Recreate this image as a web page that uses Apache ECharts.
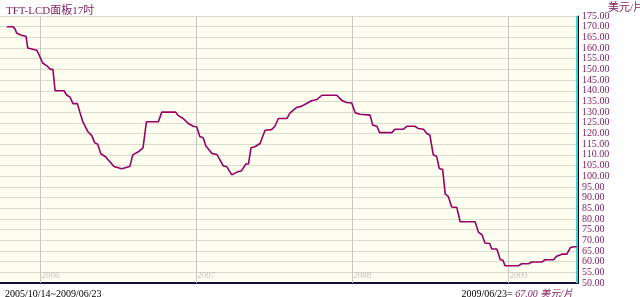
<!DOCTYPE html>
<html><head><meta charset="utf-8">
<script src="https://cdn.jsdelivr.net/npm/echarts@6/dist/echarts.min.js"></script>
<style>html,body{margin:0;padding:0;background:#fff}#c{width:640px;height:297px}</style>
</head><body><div id="c"></div>
<script>
const chartTitle = 'TFT-LCD面板17吋';
const unitLabel = '美元/片';
const rangeLabel = '2005/10/14~2009/06/23';
const lastDateLabel = '2009/06/23=';
const lastValueLabel = '67.00 美元/片';
const dates = ['2005-10-14','2005-10-28','2005-11-02','2005-11-06','2005-11-17','2005-11-28','2005-12-02','2005-12-23','2005-12-28',
'2006-01-06','2006-01-15','2006-01-24','2006-01-30','2006-02-04','2006-02-25','2006-03-03','2006-03-11','2006-03-18','2006-03-28',
'2006-04-03','2006-04-10','2006-04-22','2006-05-01','2006-05-08','2006-05-15','2006-05-22','2006-06-03','2006-06-08','2006-06-16',
'2006-06-22','2006-07-10','2006-07-29','2006-08-05','2006-08-17','2006-08-29','2006-09-06','2006-10-04','2006-10-12','2006-11-13',
'2006-11-19','2006-12-01','2006-12-13','2006-12-25','2007-01-02','2007-01-09','2007-01-17','2007-01-23','2007-02-06','2007-02-18',
'2007-03-05','2007-03-13','2007-03-25','2007-04-05','2007-04-17','2007-04-27','2007-05-03','2007-05-09','2007-05-18','2007-05-30',
'2007-06-11','2007-06-26','2007-07-04','2007-07-12','2007-08-01','2007-08-08','2007-08-24','2007-09-05','2007-09-16','2007-09-28',
'2007-10-10','2007-10-22','2007-11-26','2007-12-07','2007-12-19','2007-12-31','2008-01-08','2008-01-19','2008-02-12','2008-02-18',
'2008-02-28','2008-03-05','2008-04-03','2008-04-10','2008-04-30','2008-05-09','2008-05-27','2008-06-04','2008-06-16','2008-06-24',
'2008-07-01','2008-07-09','2008-07-17','2008-07-23','2008-07-31','2008-08-06','2008-08-13','2008-08-21','2008-09-02','2008-09-10',
'2008-10-15','2008-10-23','2008-10-31','2008-11-07','2008-11-18','2008-11-23','2008-12-05','2008-12-13','2008-12-19','2008-12-24',
'2009-01-25','2009-02-01','2009-02-17','2009-02-25','2009-03-20','2009-03-28','2009-04-17','2009-04-23','2009-05-06','2009-05-18',
'2009-05-26','2009-06-04','2009-06-10'];
const prices = [170,170,169,167,166,165.5,160,159,157,
153,151.8,150,150,140,140,138,137,134,134,
130,125.5,120.8,119,115.6,115,110.5,109,107.7,106,
104.5,103.5,104.5,110,111.3,113.3,125.5,125.5,130,130,
128.5,127,124.7,123.4,123,118.6,118,114.3,110.7,110.2,
104.8,104.5,100.6,101.8,102.6,105.7,105.7,113.3,113.8,115.3,
121.5,121.8,123.4,127,127,129.5,132.2,132.8,134,135.3,
135.9,137.9,137.9,135.6,134.5,134.3,129.7,129,128.6,123.9,
123.4,120.4,120.4,122,122,123.4,123.4,122.3,122,120,
119.2,110,109.2,103.6,103.1,91.6,90.6,85.6,85.4,78.7,
78.7,73.7,72.6,68.7,68.5,65.9,65.9,60.9,60.7,58.1,
58.1,59,59,59.8,59.8,60.9,60.9,62.4,63.5,63.5,
66.6,67,67];
const yearTicks = ['2006-01-01','2007-01-01','2008-01-01','2009-01-01'];
const yearLabels = ['2006','2007','2008','2009'];
const yMin = 50, yMax = 175, yStep = 5;
const xMin = '2005-09-28', xMax = '2009-06-13';

const serif = '"Liberation Serif","Noto Sans CJK TC",serif';
const purple = '#7d1a5e';
const chart = echarts.init(document.getElementById('c'));
const data = dates.map((d, i) => [d, prices[i]]);
chart.setOption({
  animation: false,
  backgroundColor: '#ffffff',
  title: [
    {text: chartTitle, left: 1, top: 1, textStyle: {fontFamily: serif, fontSize: 11, fontWeight: 'normal', color: purple}},
    {text: unitLabel, left: 603, top: -2, textStyle: {fontFamily: serif, fontSize: 11, fontWeight: 'normal', color: purple}},
    {text: rangeLabel, left: 0, top: 284, textStyle: {fontFamily: serif, fontSize: 10, fontWeight: 'normal', color: '#000'}},
    {text: '{a|' + lastDateLabel + '} {b|' + lastValueLabel + '}', right: 62, top: 284,
     textStyle: {fontFamily: serif, fontSize: 10, fontWeight: 'normal', rich: {
       a: {fontFamily: serif, fontSize: 10, color: '#000'},
       b: {fontFamily: serif, fontSize: 10, color: purple, fontStyle: 'italic'}}}}
  ],
  grid: {left: 0, right: 62, top: 16, bottom: 14, show: true, backgroundColor: '#fefef0', borderWidth: 0},
  xAxis: {
    type: 'time', min: xMin, max: xMax,
    axisLine: {show: true, onZero: false, lineStyle: {color: '#10103a', width: 2}},
    axisTick: {show: false},
    axisLabel: {show: false},
    splitLine: {show: false}
  },
  yAxis: {
    type: 'value', position: 'right', min: yMin, max: yMax, interval: yStep,
    axisLine: {show: true, lineStyle: {color: '#000', width: 1}},
    axisTick: {show: false},
    axisLabel: {margin: 4, color: purple, fontFamily: serif, fontSize: 10, lineHeight: 10, hideOverlap: false,
      showMinLabel: true, showMaxLabel: true, formatter: v => v.toFixed(2)},
    splitLine: {show: true, lineStyle: {color: '#dcdccc', width: 1}}
  },
  series: [
    {
      type: 'line', data: data, symbol: 'none', silent: true,
      lineStyle: {color: '#990066', width: 1.6},
      markLine: {
        silent: true, symbol: 'none', animation: false,
        data: yearTicks.map(d => ({xAxis: d}))
          .concat([{xAxis: dates[dates.length - 1], lineStyle: {color: '#3fd0d8', width: 2, type: 'solid'}}]),
        lineStyle: {color: '#c8c8c0', width: 1, type: 'solid'},
        label: {show: false}
      },
      z: 5
    },
    {
      type: 'scatter', silent: true, symbolSize: 0, z: 4,
      data: yearTicks.map((d, i) => ({value: [d, yMin], name: yearLabels[i]})),
      label: {show: true, position: 'right', distance: 1, offset: [0, -7], formatter: p => p.name,
        color: '#b4b4b4', fontFamily: serif, fontSize: 9}
    }
  ]
});
</script></body></html>
